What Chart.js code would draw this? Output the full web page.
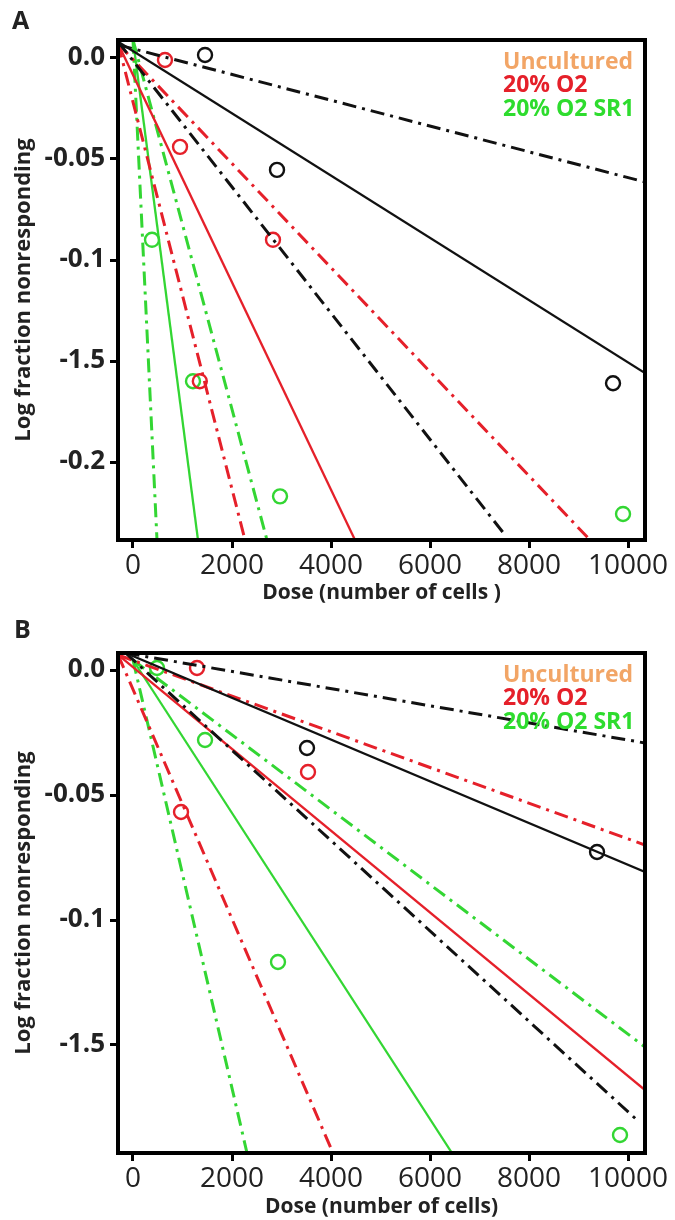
<!DOCTYPE html>
<html>
<head>
<meta charset="utf-8">
<script src="https://cdn.jsdelivr.net/npm/chart.js@4.4.1/dist/chart.umd.min.js"></script>
<style>
  body { margin: 0; background: #fff; width: 675px; height: 1220px; position: relative; overflow: hidden; }
  .panel { position: absolute; left: 0; width: 675px; height: 610px; }
  .lbl { position: absolute; font: bold 25px "Open Sans", sans-serif; line-height: 25px; color: #222; }
</style>
</head>
<body>
<div class="panel" style="top:0"><canvas id="chartA" width="675" height="610"></canvas></div>
<div class="panel" style="top:610px"><canvas id="chartB" width="675" height="610"></canvas></div>
<div class="lbl" style="left:12px;top:7px">A</div>
<div class="lbl" style="left:14px;top:616px">B</div>
<script>
// axis ticks (the y labels are printed as in the original figure)
const xTicks = [0, 2000, 4000, 6000, 8000, 10000];
const yTicksA = [0, -0.05, -0.1, -0.15, -0.2];
const yTickLabelsA = ['0.0', '-0.05', '-0.1', '-1.5', '-0.2'];
const yTicksB = [0, -0.05, -0.1, -0.15];
const yTickLabelsB = ['0.0', '-0.05', '-0.1', '-1.5'];

const legendLabels = ['Uncultured', '20% O2', '20% O2 SR1'];
const legendColors = ['#F2A566', '#E5202A', '#2EDC2E'];
const lineColors = ['#111111', '#E5202A', '#33D633'];

// ---- panel A ----
const doseA_unc = [1455, 2909, 9697];
const logA_unc = [0.0015, -0.0554, -0.161];
const doseA_o2 = [646, 950, 2828, 1350];
const logA_o2 = [-0.001, -0.044, -0.090, -0.160];
const doseA_sr1 = [384, 1212, 2970, 9899];
const logA_sr1 = [-0.090, -0.160, -0.217, -0.2257];

// fitted lines: [fit, upper, lower]
const fitA_unc_x = [[-300, 10343], [-300, 10343], [-300, 7470]];
const fitA_unc_y = [[0.008, -0.156], [0.0065, -0.0614], [0.008, -0.2347]];
const fitA_o2_x = [[-300, 4485], [-300, 9232], [-300, 2263]];
const fitA_o2_y = [[0.007, -0.2386], [0.007, -0.2386], [0.007, -0.2386]];
const fitA_sr1_x = [[0, 1313], [0, 2707], [0, 485]];
const fitA_sr1_y = [[0.009, -0.2386], [0.009, -0.2386], [0.009, -0.2386]];

// ---- panel B ----
const doseB_unc = [3515, 9374];
const logB_unc = [-0.0312, -0.0728];
const doseB_o2 = [1293, 3535, 970];
const logB_o2 = [0.0008, -0.0408, -0.0568];
const doseB_sr1 = [485, 1455, 2929, 9838];
const logB_sr1 = [0.0008, -0.028, -0.1168, -0.186];

const fitB_unc_x = [[-150, 10343], [-150, 10343], [-150, 10182]];
const fitB_unc_y = [[0.0068, -0.0808], [0.0068, -0.0292], [0.0068, -0.180]];
const fitB_o2_x = [[-300, 10343], [-300, 10343], [-300, 4040]];
const fitB_o2_y = [[0.006, -0.168], [0.006, -0.070], [0.006, -0.1932]];
const fitB_sr1_x = [[0, 6444], [0, 10343], [0, 2303]];
const fitB_sr1_y = [[0.004, -0.1932], [0.004, -0.1508], [0.004, -0.1932]];

function pts(xs, ys) {
  return xs.map((x, i) => ({ x: x, y: ys[i] }));
}

function lineSets(xs, ys, color) {
  return xs.map((x, i) => ({
    data: pts(x, ys[i]),
    showLine: true,
    borderColor: color,
    borderWidth: i === 0 ? 2.3 : 3,
    borderDash: i === 0 ? [] : [14, 6, 3, 6],
    pointRadius: 0,
    fill: false
  }));
}

function pointSet(xs, ys, color) {
  return {
    data: pts(xs, ys),
    showLine: false,
    pointRadius: 7,
    pointBorderWidth: 2.4,
    pointBorderColor: color,
    pointBackgroundColor: 'rgba(0,0,0,0)'
  };
}

const boxPlugin = {
  id: 'box',
  afterDatasetsDraw(chart) {
    const a = chart.chartArea, ctx = chart.ctx;
    ctx.save();
    ctx.strokeStyle = '#000';
    ctx.lineWidth = 4;
    ctx.strokeRect(a.left, a.top, a.right - a.left, a.bottom - a.top);
    ctx.font = 'bold 23px "Open Sans"';
    ctx.textBaseline = 'middle';
    ctx.textAlign = 'left';
    legendLabels.forEach((t, i) => {
      ctx.fillStyle = legendColors[i];
      ctx.fillText(t, a.right - 142, a.top + 22 + i * 23.5);
    });
    ctx.restore();
  }
};

function makePanel(id, sets, yTicks, yLabels, yMin, yMax, top, xTitlePad) {
  new Chart(document.getElementById(id), {
    type: 'scatter',
    data: { datasets: sets },
    options: {
      responsive: false,
      animation: false,
      devicePixelRatio: 1,
      layout: { padding: { left: 0, top: top, right: 30, bottom: 0 } },
      plugins: { legend: { display: false }, tooltip: { enabled: false } },
      scales: {
        x: {
          type: 'linear',
          min: -303, max: 10343,
          afterBuildTicks: s => { s.ticks = xTicks.map(v => ({ value: v })); },
          afterFit: s => { s.height = 610 - (top + 500); },
          border: { display: false },
          grid: { drawOnChartArea: false, drawTicks: true, tickLength: 8, tickWidth: 3, color: '#000' },
          ticks: { color: '#222', padding: 1, font: { family: 'Open Sans', size: 28 }, maxRotation: 0,
                   callback: v => String(v) },
          title: { display: true, text: id === 'chartA' ? 'Dose (number of cells )' : 'Dose (number of cells)',
                   color: '#222', font: { family: 'Open Sans', size: 21, weight: 'bold' },
                   padding: { top: 0, bottom: xTitlePad } }
        },
        y: {
          type: 'linear',
          min: yMin, max: yMax,
          afterBuildTicks: s => { s.ticks = yTicks.map(v => ({ value: v })); },
          afterFit: s => { s.width = 118; },
          border: { display: false },
          grid: { drawOnChartArea: false, drawTicks: true, tickLength: 8, tickWidth: 3, color: '#000' },
          ticks: {
            color: '#222', padding: 5, font: { family: 'Open Sans', size: 26, weight: 'bold' },
            callback: (v) => { const k = yTicks.findIndex(t => Math.abs(t - v) < 1e-9); return k >= 0 ? yLabels[k] : ''; }
          },
          title: { display: true, text: 'Log fraction nonresponding', color: '#222',
                   font: { family: 'Open Sans', size: 22, weight: 'bold' },
                   padding: { top: 11, bottom: 0 } }
        }
      }
    },
    plugins: [boxPlugin]
  });
}

const setsA = [].concat(
  lineSets(fitA_unc_x, fitA_unc_y, lineColors[0]),
  lineSets(fitA_o2_x, fitA_o2_y, lineColors[1]),
  lineSets(fitA_sr1_x, fitA_sr1_y, lineColors[2]),
  [pointSet(doseA_unc, logA_unc, lineColors[0]),
   pointSet(doseA_o2, logA_o2, lineColors[1]),
   pointSet(doseA_sr1, logA_sr1, lineColors[2])]
);
const setsB = [].concat(
  lineSets(fitB_unc_x, fitB_unc_y, lineColors[0]),
  lineSets(fitB_o2_x, fitB_o2_y, lineColors[1]),
  lineSets(fitB_sr1_x, fitB_sr1_y, lineColors[2]),
  [pointSet(doseB_unc, logB_unc, lineColors[0]),
   pointSet(doseB_o2, logB_o2, lineColors[1]),
   pointSet(doseB_sr1, logB_sr1, lineColors[2])]
);

makePanel('chartA', setsA, yTicksA, yTickLabelsA, -0.2386, 0.0089, 40, 4);
makePanel('chartB', setsB, yTicksB, yTickLabelsB, -0.1932, 0.0068, 43, 0);
</script>
</body>
</html>
